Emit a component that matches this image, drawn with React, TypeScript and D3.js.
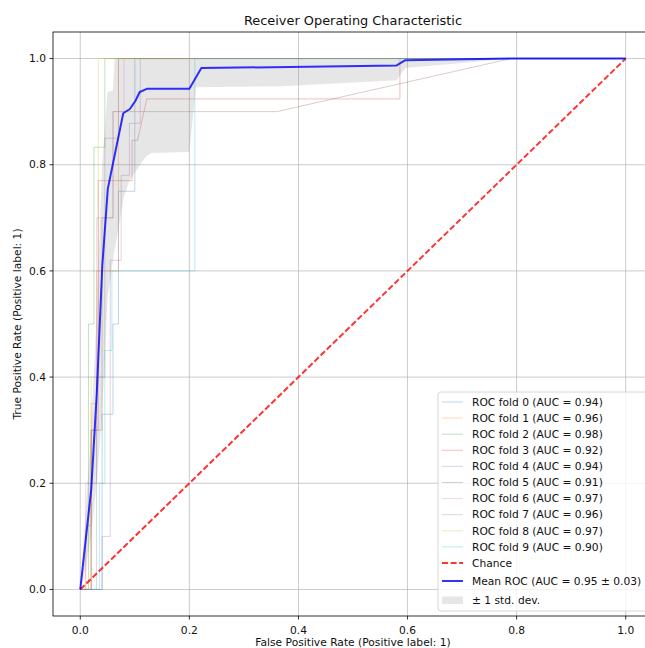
import { useRef, useEffect } from 'react'
import * as d3 from 'd3'

// per-fold ROC curves (fpr / tpr)
const fold0Fpr = [0, 0.04, 0.04, 0.06, 0.06, 0.07, 0.07, 0.1, 0.1, 1]
const fold0Tpr = [0, 0, 0.33, 0.33, 0.5, 0.5, 0.75, 0.75, 1, 1]
const fold1Fpr = [0, 0.01, 0.01, 0.02, 0.02, 0.03, 0.03, 0.07, 0.07, 1]
const fold1Tpr = [0, 0, 0.12, 0.12, 0.35, 0.35, 0.6, 0.6, 1, 1]
const fold2Fpr = [0, 0.015, 0.015, 0.025, 0.025, 0.045, 0.045, 1]
const fold2Tpr = [0, 0, 0.5, 0.5, 0.833, 0.833, 1, 1]
const fold3Fpr = [0, 0.02, 0.02, 0.033, 0.033, 0.095, 0.095, 0.105, 0.122, 0.586, 0.586, 1]
const fold3Tpr = [0, 0, 0.3, 0.3, 0.77, 0.77, 0.846, 0.846, 0.924, 0.924, 1, 1]
const fold4Fpr = [0, 0.04, 0.04, 0.055, 0.055, 0.075, 0.075, 0.09, 0.09, 0.11, 0.11, 1]
const fold4Tpr = [0, 0, 0.1, 0.1, 0.62, 0.62, 0.78, 0.78, 0.878, 0.878, 1, 1]
const fold5Fpr = [0, 0.02, 0.02, 0.04, 0.04, 0.06, 0.06, 0.36, 0.79, 1]
const fold5Tpr = [0, 0, 0.3, 0.3, 0.7, 0.7, 0.9, 0.9, 1, 1]
const fold6Fpr = [0, 0.01, 0.01, 0.03, 0.03, 0.06, 0.06, 0.08, 0.08, 1]
const fold6Tpr = [0, 0, 0.2, 0.2, 0.7, 0.7, 0.9, 0.9, 1, 1]
const fold7Fpr = [0, 0.03, 0.03, 0.045, 0.045, 0.07, 0.07, 1]
const fold7Tpr = [0, 0, 0.4, 0.4, 0.85, 0.85, 1, 1]
const fold8Fpr = [0, 0.02, 0.02, 0.033, 0.033, 1]
const fold8Tpr = [0, 0, 0.4, 0.4, 1, 1]
const fold9Fpr = [0, 0.035, 0.035, 0.045, 0.045, 0.058, 0.058, 0.21, 0.21, 1]
const fold9Tpr = [0, 0, 0.2, 0.2, 0.45, 0.45, 0.6, 0.6, 1, 1]

const foldAuc = [0.94, 0.96, 0.98, 0.92, 0.94, 0.91, 0.97, 0.96, 0.97, 0.90]
const foldColors = ['#1f77b4', '#ff7f0e', '#2ca02c', '#d62728', '#9467bd',
  '#8c564b', '#e377c2', '#7f7f7f', '#bcbd22', '#17becf']

// mean ROC
const meanFpr = [0, 0.0101, 0.0202, 0.0303, 0.0404, 0.0505, 0.0788, 0.0909, 0.101, 0.109, 0.122, 0.2, 0.222, 0.58, 0.596, 0.79, 1]
const meanTpr = [0, 0.095, 0.19, 0.37, 0.61, 0.755, 0.897, 0.905, 0.92, 0.937, 0.943, 0.943, 0.982, 0.987, 0.997, 1, 1]

// +/- 1 std band
const bandFpr = [0, 0.01, 0.02, 0.03, 0.04, 0.05, 0.06, 0.063, 0.07, 0.08, 0.09, 0.1, 0.11, 0.12, 0.13, 0.2, 0.212, 0.37, 0.58, 0.596, 0.79, 1]
const bandUpper = [0, 0.15, 0.3, 0.52, 0.8, 0.937, 0.94, 1, 1, 1, 1, 1, 1, 1, 1, 1, 1, 1, 1, 1, 1, 1]
const bandLower = [0, 0.04, 0.1, 0.2, 0.33, 0.55, 0.62, 0.64, 0.68, 0.74, 0.77, 0.785, 0.8, 0.815, 0.822, 0.824, 0.946, 0.948, 0.959, 0.982, 1, 1]

const xTicks = [0, 0.2, 0.4, 0.6, 0.8, 1.0]
const yTicks = [0, 0.2, 0.4, 0.6, 0.8, 1.0]

function App() {
  const ref = useRef<SVGSVGElement>(null)
  useEffect(() => {
    const folds = [
      [fold0Fpr, fold0Tpr], [fold1Fpr, fold1Tpr], [fold2Fpr, fold2Tpr], [fold3Fpr, fold3Tpr],
      [fold4Fpr, fold4Tpr], [fold5Fpr, fold5Tpr], [fold6Fpr, fold6Tpr], [fold7Fpr, fold7Tpr],
      [fold8Fpr, fold8Tpr], [fold9Fpr, fold9Tpr],
    ]
    const left = 53, right = 653, top = 32, bottom = 616
    const x = d3.scaleLinear().domain([-0.05, 1.05]).range([left, right])
    const y = d3.scaleLinear().domain([-0.05, 1.05]).range([bottom, top])

    const svg = d3.select(ref.current)
    svg.selectAll('*').remove()
    const font = 'DejaVu Sans, sans-serif'
    const fs = 10.7
    const ink = '#111'

    svg.append('defs').append('clipPath').attr('id', 'plotclip')
      .append('rect').attr('x', left).attr('y', top).attr('width', right - left).attr('height', bottom - top)

    // grid
    const grid = svg.append('g')
    xTicks.forEach(t => grid.append('line').attr('x1', x(t)).attr('x2', x(t)).attr('y1', top).attr('y2', bottom)
      .attr('stroke', '#b0b0b0').attr('stroke-width', 0.8).attr('opacity', 0.8))
    yTicks.forEach(t => grid.append('line').attr('y1', y(t)).attr('y2', y(t)).attr('x1', left).attr('x2', right)
      .attr('stroke', '#b0b0b0').attr('stroke-width', 0.8).attr('opacity', 0.8))

    const plot = svg.append('g').attr('clip-path', 'url(#plotclip)')
    const line = d3.line<[number, number]>().x(d => x(d[0])).y(d => y(d[1]))

    folds.forEach((f, i) => {
      const pts = f[0].map((v, j) => [v, f[1][j]] as [number, number])
      plot.append('path').attr('d', line(pts)).attr('fill', 'none')
        .attr('stroke', foldColors[i]).attr('stroke-width', 1).attr('stroke-opacity', 0.3)
    })

    // chance
    plot.append('line').attr('x1', x(0)).attr('y1', y(0)).attr('x2', x(1)).attr('y2', y(1))
      .attr('stroke', 'red').attr('stroke-width', 2).attr('stroke-opacity', 0.8)
      .attr('stroke-dasharray', '6,2.6')

    // band
    const area = d3.area<number>().x((d, i) => x(bandFpr[i])).y0((d, i) => y(bandLower[i])).y1(d => y(d))
    plot.append('path').attr('d', area(bandUpper)).attr('fill', 'grey').attr('fill-opacity', 0.2)

    // mean
    const meanPts = meanFpr.map((v, j) => [v, meanTpr[j]] as [number, number])
    plot.append('path').attr('d', line(meanPts)).attr('fill', 'none')
      .attr('stroke', 'blue').attr('stroke-width', 2).attr('stroke-opacity', 0.8)
      .attr('stroke-linejoin', 'round')

    // frame
    svg.append('rect').attr('x', left).attr('y', top).attr('width', right - left).attr('height', bottom - top)
      .attr('fill', 'none').attr('stroke', 'black').attr('stroke-width', 0.8)

    // ticks
    xTicks.forEach(t => {
      svg.append('line').attr('x1', x(t)).attr('x2', x(t)).attr('y1', bottom).attr('y2', bottom + 3.5)
        .attr('stroke', 'black').attr('stroke-width', 0.8)
      svg.append('text').attr('x', x(t)).attr('y', bottom + 17.5).attr('text-anchor', 'middle')
        .style('font', `${fs}px ${font}`).attr('fill', ink).text(t.toFixed(1))
    })
    yTicks.forEach(t => {
      svg.append('line').attr('x1', left - 3.5).attr('x2', left).attr('y1', y(t)).attr('y2', y(t))
        .attr('stroke', 'black').attr('stroke-width', 0.8)
      svg.append('text').attr('x', left - 7).attr('y', y(t)).attr('dy', '0.35em').attr('text-anchor', 'end')
        .style('font', `${fs}px ${font}`).attr('fill', ink).text(t.toFixed(1))
    })

    svg.append('text').attr('x', (left + right) / 2).attr('y', 25).attr('text-anchor', 'middle')
      .style('font', `12.9px ${font}`).attr('fill', ink).text('Receiver Operating Characteristic')
    svg.append('text').attr('x', (left + right) / 2).attr('y', 646).attr('text-anchor', 'middle')
      .style('font', `${fs}px ${font}`).attr('fill', ink).text('False Positive Rate (Positive label: 1)')
    svg.append('text').attr('transform', `translate(21,${(top + bottom) / 2})rotate(-90)`).attr('text-anchor', 'middle')
      .style('font', `${fs}px ${font}`).attr('fill', ink).text('True Positive Rate (Positive label: 1)')

    // legend
    const lg = svg.append('g')
    lg.append('rect').attr('x', 438).attr('y', 392).attr('width', 215).attr('height', 219).attr('rx', 3)
      .attr('fill', 'white').attr('fill-opacity', 0.8).attr('stroke', '#cccccc').attr('stroke-width', 0.8)
    const rowY = (i: number) => 402 + i * 16.1
    foldAuc.forEach((a, i) => {
      lg.append('line').attr('x1', 442).attr('x2', 463).attr('y1', rowY(i)).attr('y2', rowY(i))
        .attr('stroke', foldColors[i]).attr('stroke-width', 1).attr('stroke-opacity', 0.3)
      lg.append('text').attr('x', 472).attr('y', rowY(i)).attr('dy', '0.35em')
        .style('font', `${fs}px ${font}`).attr('fill', ink).text(`ROC fold ${i} (AUC = ${a.toFixed(2)})`)
    })
    lg.append('line').attr('x1', 442).attr('x2', 463).attr('y1', 563).attr('y2', 563)
      .attr('stroke', 'red').attr('stroke-width', 2).attr('stroke-opacity', 0.8).attr('stroke-dasharray', '6,2.6')
    lg.append('text').attr('x', 472).attr('y', 563).attr('dy', '0.35em')
      .style('font', `${fs}px ${font}`).attr('fill', ink).text('Chance')
    lg.append('line').attr('x1', 442).attr('x2', 463).attr('y1', 581).attr('y2', 581)
      .attr('stroke', 'blue').attr('stroke-width', 2).attr('stroke-opacity', 0.8)
    lg.append('text').attr('x', 472).attr('y', 581).attr('dy', '0.35em')
      .style('font', `${fs}px ${font}`).attr('fill', ink).text('Mean ROC (AUC = 0.95 \u00b1 0.03)')
    lg.append('rect').attr('x', 442).attr('y', 596.5).attr('width', 21).attr('height', 7.5)
      .attr('fill', 'grey').attr('fill-opacity', 0.2)
    lg.append('text').attr('x', 472).attr('y', 600).attr('dy', '0.35em')
      .style('font', `${fs}px ${font}`).attr('fill', ink).text('\u00b1 1 std. dev.')
  }, [])

  return (
    <svg ref={ref} width={645} height={648}
      style={{ position: 'absolute', left: 0, top: 0, display: 'block', background: 'white' }} />
  )
}

export default App
